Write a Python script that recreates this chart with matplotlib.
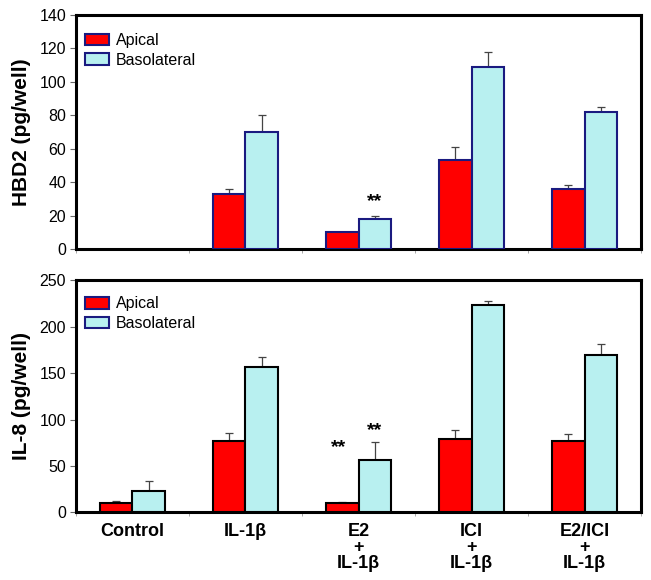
import numpy as np
import matplotlib.pyplot as plt

plt.rcParams['font.family'] = ['Liberation Sans', 'DejaVu Sans']

groups = ['Control', 'IL-1\u03b2', 'E2\n+\nIL-1\u03b2', 'ICI\n+\nIL-1\u03b2', 'E2/ICI\n+\nIL-1\u03b2']

# HBD2 (pg/well), control not detected
hbd2_apical = [np.nan, 33, 10, 53, 36]
hbd2_apical_err = [0, 3, 0, 8, 2]
hbd2_baso = [np.nan, 70, 18, 109, 82]
hbd2_baso_err = [0, 10, 2, 9, 3]

# IL-8 (pg/well)
il8_apical = [10, 77, 10, 79, 77]
il8_apical_err = [2, 8, 1.5, 10, 7]
il8_baso = [23, 157, 56, 223, 170]
il8_baso_err = [11, 10, 20, 5, 11]

red = '#ff0000'
cyan = '#b8f0f0'
navy = '#1a1a80'

x = np.arange(len(groups))
w = 0.285

fig = plt.figure(figsize=(6.51, 5.8), dpi=100)
ax1 = fig.add_axes([0.1167, 0.5707, 0.868, 0.4034])
ax2 = fig.add_axes([0.1167, 0.1167, 0.868, 0.40])


def draw(ax, ap, ap_err, bl, bl_err, edge, ymax, ystep, ylabel, leg_y):
    ax.bar(x - w / 2, ap, w, color=red, edgecolor=edge, linewidth=1.5,
           label='Apical', zorder=3)
    ax.bar(x + w / 2, bl, w, color=cyan, edgecolor=edge, linewidth=1.5,
           label='Basolateral', zorder=3)
    ax.errorbar(x - w / 2, ap, yerr=[np.zeros(len(ap)), ap_err], fmt='none',
                ecolor='#444444', elinewidth=0.9, capsize=3, capthick=0.9, zorder=2)
    ax.errorbar(x + w / 2, bl, yerr=[np.zeros(len(bl)), bl_err], fmt='none',
                ecolor='#444444', elinewidth=0.9, capsize=3, capthick=0.9, zorder=2)
    ax.set_xlim(-0.5, len(groups) - 0.5)
    ax.set_ylim(0, ymax)
    ax.set_yticks(np.arange(0, ymax + 1, ystep))
    ax.set_xticks(np.arange(len(groups) + 1) - 0.5, minor=True)
    ax.tick_params(axis='x', which='minor', length=3, width=0.6, color='#999999')
    ax.tick_params(axis='y', labelsize=11.5, length=4, width=0.8, pad=3,
                   color='#666666')
    for s in ax.spines.values():
        s.set_linewidth(2.2)
    ax.set_ylabel(ylabel, fontsize=15, fontweight='bold')
    ax.yaxis.set_label_coords(-0.08, 0.5)
    leg = ax.legend(loc='upper left', bbox_to_anchor=(0.016, leg_y), frameon=False,
                    fontsize=11.5, handlelength=1.5, handleheight=0.75,
                    borderaxespad=0, borderpad=0, labelspacing=0.3,
                    handletextpad=0.45)
    for p in leg.get_patches():
        p.set_edgecolor(navy)


draw(ax1, hbd2_apical, hbd2_apical_err, hbd2_baso, hbd2_baso_err, navy, 140, 20,
     'HBD2 (pg/well)', 0.923)
ax1.set_xticks(x)
ax1.set_xticklabels([])
ax1.tick_params(axis='x', which='major', length=0)
ax1.text(x[2] + w / 2, 23, '**', ha='center', va='bottom', fontsize=14, fontweight='bold')

draw(ax2, il8_apical, il8_apical_err, il8_baso, il8_baso_err, 'black', 250, 50,
     'IL-8 (pg/well)', 0.931)
ax2.set_xticks(x)
ax2.set_xticklabels(groups, fontsize=13, fontweight='bold', linespacing=0.9, va='top')
ax2.tick_params(axis='x', which='major', length=0, pad=8)
ax2.text(x[2] - w / 2 - 0.03, 61, '**', ha='center', va='bottom', fontsize=14, fontweight='bold')
ax2.text(x[2] + w / 2, 79, '**', ha='center', va='bottom', fontsize=14, fontweight='bold')

fig.savefig('out.png', dpi=100)
